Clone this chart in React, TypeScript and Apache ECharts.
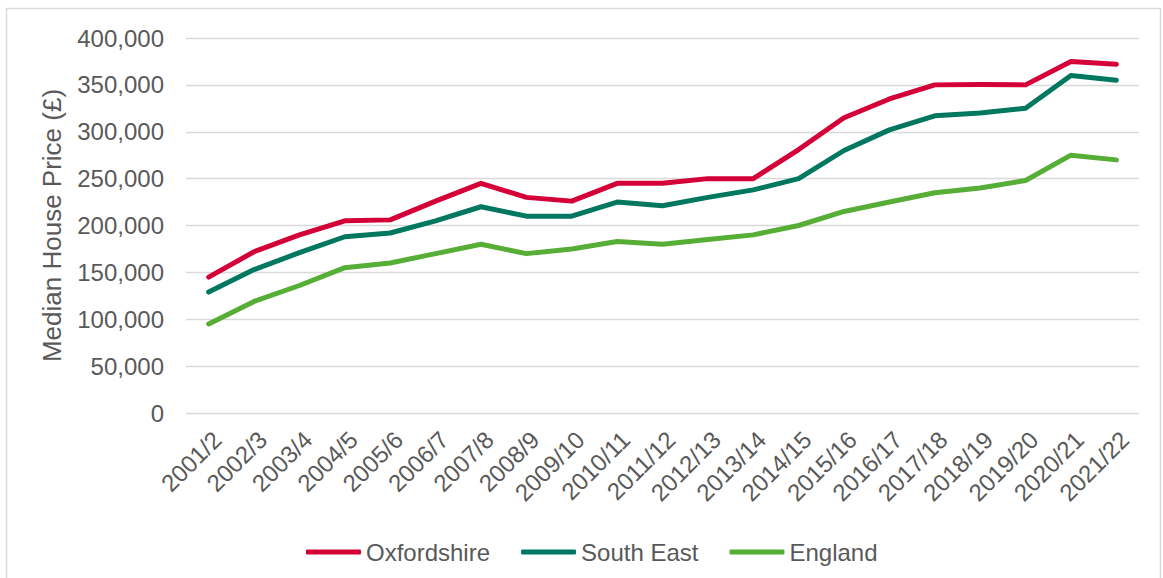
import React, { useEffect, useRef } from "react";
import * as echarts from "echarts";

const categories = [
  "2001/2", "2002/3", "2003/4", "2004/5", "2005/6", "2006/7", "2007/8",
  "2008/9", "2009/10", "2010/11", "2011/12", "2012/13", "2013/14", "2014/15",
  "2015/16", "2016/17", "2017/18", "2018/19", "2019/20", "2020/21", "2021/22",
];

const oxfordshire = [
  145000, 172000, 190000, 205000, 206000, 226000, 245000, 230000, 226000, 245000,
  245000, 250000, 250000, 281000, 315000, 335000, 350000, 350500, 350000, 375000, 372000,
];

const southEast = [
  129000, 153000, 171000, 188000, 192000, 205000, 220000, 210000, 210000, 225000,
  221000, 230000, 238000, 250000, 280000, 302000, 317000, 320000, 325000, 360000, 355000,
];

const england = [
  95000, 119000, 136000, 155000, 160000, 170000, 180000, 170000, 175000, 183000,
  180000, 185000, 190000, 200000, 215000, 225000, 235000, 240000, 248000, 275000, 270000,
];

const seriesNames = ["Oxfordshire", "South East", "England"];
const seriesColors = ["#D40038", "#00775F", "#56AE36"];
const yAxisTitle = "Median House Price (£)";

const FONT = "Arial, 'Liberation Sans', Helvetica, sans-serif";
const TEXT = "#595959";

export default function App() {
  const ref = useRef<HTMLDivElement>(null);

  useEffect(() => {
    if (!ref.current) return;
    const chart = echarts.init(ref.current, undefined, { renderer: "svg" });
    const data = [oxfordshire, southEast, england];
    chart.setOption({
      animation: false,
      backgroundColor: "#ffffff",
      textStyle: { fontFamily: FONT, color: TEXT },
      graphic: [
        {
          type: "rect",
          shape: { x: 6.5, y: 8.5, width: 1154, height: 600 },
          style: { fill: "none", stroke: "#D9D9D9", lineWidth: 1.5 },
          silent: true,
        },
      ],
      grid: { left: 186, right: 24, top: 38, bottom: 165, containLabel: false },
      legend: {
        left: 301,
        top: 535,
        icon: "roundRect",
        itemWidth: 55,
        itemHeight: 5,
        itemGap: 31,
        textStyle: { fontFamily: FONT, fontSize: 24, color: TEXT },
        data: seriesNames,
      },
      xAxis: {
        type: "category",
        data: categories,
        boundaryGap: true,
        axisLine: { show: false },
        axisTick: { show: false },
        axisLabel: {
          rotate: 45,
          interval: 0,
          margin: 14,
          verticalAlign: "top",
          fontFamily: FONT,
          fontSize: 24,
          color: TEXT,
        },
      },
      yAxis: {
        type: "value",
        min: 0,
        max: 400000,
        interval: 50000,
        name: yAxisTitle,
        nameLocation: "middle",
        nameGap: 121,
        nameRotate: 90,
        nameTextStyle: { fontFamily: FONT, fontSize: 26, color: TEXT },
        axisLine: { show: false },
        axisTick: { show: false },
        axisLabel: {
          margin: 22,
          fontFamily: FONT,
          fontSize: 24,
          color: TEXT,
          formatter: (v: number) => v.toLocaleString("en-GB"),
        },
        splitLine: { lineStyle: { color: "#D9D9D9", width: 1.3 } },
      },
      series: seriesNames.map((name, i) => ({
        name,
        type: "line",
        data: data[i],
        symbol: "none",
        color: seriesColors[i],
        lineStyle: { width: 5, color: seriesColors[i], cap: "round", join: "round" },
        z: 10 - i,
      })),
    });
    return () => chart.dispose();
  }, []);

  return (
    <div
      ref={ref}
      style={{ position: "fixed", left: 0, top: 0, width: 1163, height: 578 }}
    />
  );
}
